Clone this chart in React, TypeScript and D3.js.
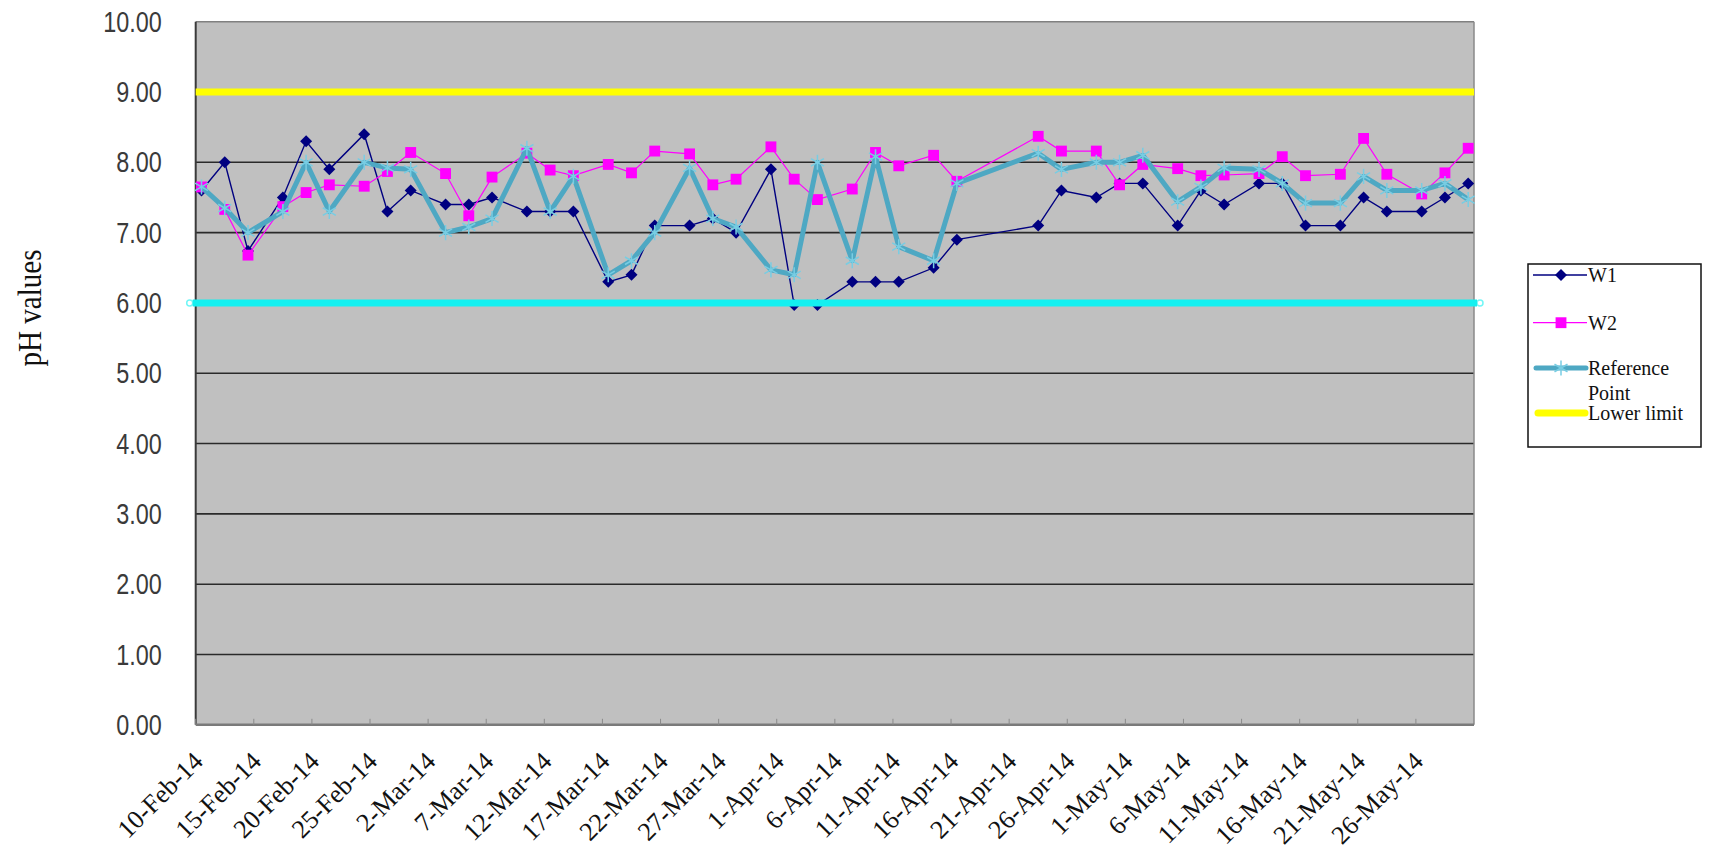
import React from 'react';
import * as d3 from 'd3';

// sampling dates (Mon / Wed / Fri)
const sampleDates = [
  '2014-02-10', '2014-02-12', '2014-02-14', '2014-02-17', '2014-02-19', '2014-02-21', '2014-02-24', '2014-02-26', '2014-02-28',
  '2014-03-03', '2014-03-05', '2014-03-07', '2014-03-10', '2014-03-12', '2014-03-14', '2014-03-17', '2014-03-19', '2014-03-21',
  '2014-03-24', '2014-03-26', '2014-03-28', '2014-03-31',
  '2014-04-02', '2014-04-04', '2014-04-07', '2014-04-09', '2014-04-11', '2014-04-14', '2014-04-16', '2014-04-23', '2014-04-25',
  '2014-04-28', '2014-04-30',
  '2014-05-02', '2014-05-05', '2014-05-07', '2014-05-09', '2014-05-12', '2014-05-14', '2014-05-16', '2014-05-19', '2014-05-21',
  '2014-05-23', '2014-05-26', '2014-05-28', '2014-05-30',
];

const w1Values = [
  7.6, 8.0, 6.74, 7.5, 8.3, 7.9, 8.4, 7.3, 7.6,
  7.4, 7.4, 7.5, 7.3, 7.3, 7.3, 6.3, 6.4, 7.1, 7.1, 7.2, 7.0, 7.9,
  5.97, 5.97, 6.3, 6.3, 6.3, 6.5, 6.9, 7.1, 7.6, 7.5, 7.7,
  7.7, 7.1, 7.6, 7.4, 7.7, 7.7, 7.1, 7.1, 7.5, 7.3, 7.3, 7.5, 7.7,
];

const w2Values = [
  7.65, 7.33, 6.68, 7.37, 7.57, 7.68, 7.66, 7.87, 8.14,
  7.84, 7.24, 7.79, 8.13, 7.89, 7.81, 7.97, 7.85, 8.16, 8.12, 7.68, 7.76, 8.22,
  7.76, 7.47, 7.62, 8.14, 7.95, 8.1, 7.73, 8.37, 8.16, 8.16, 7.68,
  7.97, 7.91, 7.81, 7.82, 7.84, 8.08, 7.81, 7.83, 8.34, 7.83, 7.55, 7.85, 8.2,
];

const referenceValues = [
  7.65, 7.35, 7.0, 7.3, 8.0, 7.3, 8.0, 7.92, 7.9,
  7.0, 7.08, 7.2, 8.2, 7.3, 7.8, 6.4, 6.6, 7.0, 7.92, 7.2, 7.08, 6.47,
  6.4, 8.0, 6.6, 8.08, 6.8, 6.6, 7.7, 8.13, 7.9, 8.0, 8.0,
  8.1, 7.44, 7.65, 7.92, 7.9, 7.7, 7.42, 7.42, 7.8, 7.6, 7.6, 7.7, 7.47,
];

const upperLimit = 9;
const lowerLimit = 6;

const xTickLabels = [
  '10-Feb-14', '15-Feb-14', '20-Feb-14', '25-Feb-14', '2-Mar-14', '7-Mar-14', '12-Mar-14', '17-Mar-14',
  '22-Mar-14', '27-Mar-14', '1-Apr-14', '6-Apr-14', '11-Apr-14', '16-Apr-14', '21-Apr-14', '26-Apr-14',
  '1-May-14', '6-May-14', '11-May-14', '16-May-14', '21-May-14', '26-May-14',
];

const yTicks = [0, 1, 2, 3, 4, 5, 6, 7, 8, 9, 10];

const legendItems = ['W1', 'W2', 'Reference', 'Point', 'Lower limit'];

const WIDTH = 1709;
const HEIGHT = 854;
const margin = { top: 21.7, right: 235, bottom: 129.2, left: 195.7 };

const parseDay = d3.utcParse('%Y-%m-%d');
const parseTick = d3.utcParse('%d-%b-%y');
const mid = (d: Date) => d3.utcHour.offset(d, 12);

const App: React.FC = () => {
  const innerW = WIDTH - margin.left - margin.right;
  const innerH = HEIGHT - margin.top - margin.bottom;

  const x = d3.scaleUtc()
    .domain([parseDay('2014-02-10') as Date, parseDay('2014-05-31') as Date])
    .range([0, innerW]);
  const y = d3.scaleLinear().domain([0, 10]).range([innerH, 0]);

  const dates = sampleDates.map(s => parseDay(s) as Date);
  const mkSeries = (vals: number[]) => vals.map((v, i) => ({ d: dates[i], v }));
  const line = d3.line<{ d: Date; v: number }>()
    .x(p => x(mid(p.d)))
    .y(p => y(p.v));

  const w1 = mkSeries(w1Values);
  const w2 = mkSeries(w2Values);
  const ref = mkSeries(referenceValues);

  const diamond = d3.symbol().type(d3.symbolSquare).size(72)() as string;
  const square = d3.symbol().type(d3.symbolSquare).size(118)() as string;
  const asterisk = d3.symbol().type(d3.symbolAsterisk).size(160)() as string;

  const fmt = d3.format('.2f');
  const serif = 'Liberation Serif, Times New Roman, serif';

  // legend geometry
  const lg = { x: 1528, y: 264, w: 173, h: 183 };
  const lgRows = [275, 322.7, 368, 393, 413];

  return (
    <svg width={WIDTH} height={HEIGHT} style={{ position: 'absolute', left: 0, top: 0, background: '#fff' }}>
      {/* y-axis title */}
      <text
        transform={`translate(41,308) rotate(-90) scale(0.88,1)`}
        textAnchor="middle"
        style={{ fontFamily: serif }}
        fontSize={33}
        fill="#111"
      >
        pH values
      </text>

      <g transform={`translate(${margin.left},${margin.top})`}>
        <rect width={innerW} height={innerH} fill="#c0c0c0" />

        {/* gridlines */}
        {yTicks.filter(t => t > 0 && t < 10).map(t => (
          <line key={t} x1={0} x2={innerW} y1={y(t)} y2={y(t)} stroke="#2a2a2a" strokeWidth={1.6} />
        ))}

        {/* borders */}
        <line x1={0} x2={innerW} y1={0} y2={0} stroke="#808080" strokeWidth={1.5} />
        <line x1={innerW} x2={innerW} y1={0} y2={innerH} stroke="#8a8a8a" strokeWidth={1.5} />
        <line x1={0} x2={0} y1={0} y2={innerH} stroke="#3a3a3a" strokeWidth={2} />
        <line x1={0} x2={innerW} y1={innerH} y2={innerH} stroke="#7a7a7a" strokeWidth={2.5} />

        {/* x ticks (inside) */}
        {xTickLabels.map(l => {
          const tx = x(parseTick(l) as Date);
          return <line key={'t' + l} x1={tx} x2={tx} y1={innerH} y2={innerH - 6} stroke="#8a8a8a" strokeWidth={1} />;
        })}

        {/* y tick labels */}
        {yTicks.map(t => (
          <text
            key={'y' + t}
            transform={`translate(-34,${y(t)}) scale(0.78,1)`}
            textAnchor="end"
            dominantBaseline="central"
            style={{ fontFamily: 'Liberation Sans, Arial, sans-serif' }}
            fontSize={30}
            fill="#3a3a3a"
          >
            {fmt(t)}
          </text>
        ))}

        {/* x tick labels */}
        {xTickLabels.map(l => {
          const tx = x(mid(parseTick(l) as Date));
          return (
            <text
              key={'x' + l}
              transform={`translate(${tx + 3},${innerH + 38}) rotate(-45)`}
              textAnchor="end"
              style={{ fontFamily: serif }}
              fontSize={26}
              fill="#111"
            >
              {l}
            </text>
          );
        })}

        {/* W1 */}
        <path d={line(w1) as string} fill="none" stroke="#000080" strokeWidth={1.4} />
        {w1.map((p, i) => (
          <path key={'a' + i} d={diamond} transform={`translate(${x(mid(p.d))},${y(p.v)}) rotate(45)`} fill="#000080" />
        ))}

        {/* W2 */}
        <path d={line(w2) as string} fill="none" stroke="#ff00ff" strokeWidth={1.2} />
        {w2.map((p, i) => (
          <path key={'b' + i} d={square} transform={`translate(${x(mid(p.d))},${y(p.v)})`} fill="#ff00ff" />
        ))}

        {/* Reference */}
        <path d={line(ref) as string} fill="none" stroke="#4ea8c3" strokeWidth={5} strokeLinejoin="round" />
        {ref.map((p, i) => (
          <path key={'c' + i} d={asterisk} transform={`translate(${x(mid(p.d))},${y(p.v)})`} fill="none" stroke="#78cde3" strokeWidth={1.5} />
        ))}

        {/* limit lines */}
        <line x1={0} x2={innerW} y1={y(upperLimit)} y2={y(upperLimit)} stroke="#ffff00" strokeWidth={7} />
        <line x1={-3} x2={innerW + 3} y1={y(lowerLimit)} y2={y(lowerLimit)} stroke="#14f0f0" strokeWidth={7} />
        <circle cx={-6} cy={y(lowerLimit)} r={3} fill="none" stroke="#14f0f0" strokeWidth={1.5} opacity={0.6} />
        <circle cx={innerW + 6} cy={y(lowerLimit)} r={3} fill="none" stroke="#14f0f0" strokeWidth={1.5} opacity={0.6} />
      </g>

      {/* legend */}
      <g>
        <rect x={lg.x} y={lg.y} width={lg.w} height={lg.h} fill="#fff" stroke="#111" strokeWidth={1.5} />
        <line x1={1533} x2={1587} y1={lgRows[0]} y2={lgRows[0]} stroke="#000080" strokeWidth={1.4} />
        <path d={diamond} transform={`translate(1561,${lgRows[0]}) rotate(45)`} fill="#000080" />
        <line x1={1533} x2={1587} y1={lgRows[1]} y2={lgRows[1]} stroke="#ff00ff" strokeWidth={1.2} />
        <path d={square} transform={`translate(1561,${lgRows[1]})`} fill="#ff00ff" />
        <line x1={1536} x2={1586} y1={lgRows[2]} y2={lgRows[2]} stroke="#4ea8c3" strokeWidth={5} strokeLinecap="round" />
        <path d={asterisk} transform={`translate(1561,${lgRows[2]})`} fill="none" stroke="#78cde3" strokeWidth={1.5} />
        <line x1={1538} x2={1585} y1={lgRows[4]} y2={lgRows[4]} stroke="#ffff00" strokeWidth={7} strokeLinecap="round" />
        {legendItems.map((t, i) => (
          <text
            key={t}
            x={1588}
            y={lgRows[i]}
            dominantBaseline="central"
            style={{ fontFamily: serif }}
            fontSize={20}
            fill="#111"
          >
            {t}
          </text>
        ))}
      </g>
    </svg>
  );
};

export default App;
